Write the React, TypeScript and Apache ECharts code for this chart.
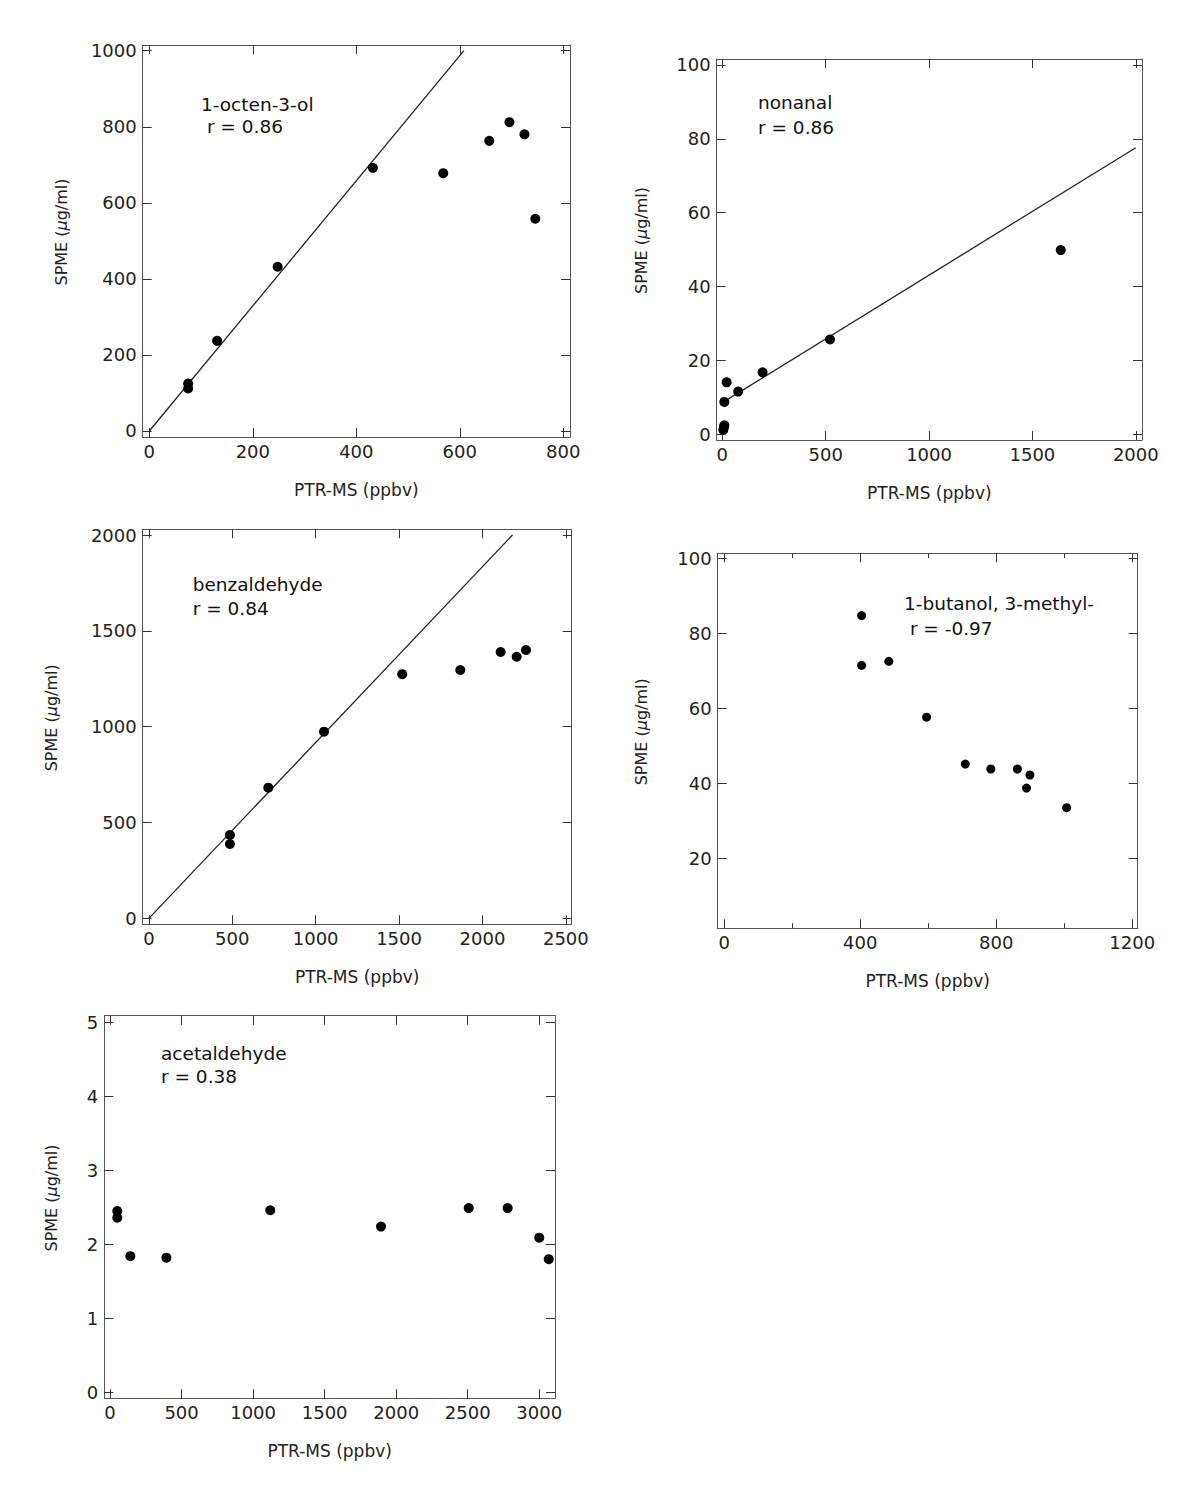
import React, { useEffect, useRef } from "react";
import * as echarts from "echarts";

// ---- data ----
const octenX = [75, 75, 131, 248, 432, 568, 657, 696, 725, 746];
const octenY = [125, 112, 237, 432, 692, 678, 763, 812, 780, 558];
const octenFitX = [0, 608];
const octenFitY = [0, 1000];

const nonanalX = [5, 8, 10, 10, 21, 77, 195, 521, 1637];
const nonanalY = [1.2, 2.0, 2.5, 8.8, 14.1, 11.6, 16.8, 25.7, 49.9];
const nonanalFitX = [20, 2000];
const nonanalFitY = [9.3, 77.6];

const benzX = [486, 486, 716, 1050, 1519, 1867, 2109, 2205, 2261];
const benzY = [435, 388, 682, 974, 1274, 1296, 1390, 1365, 1400];
const benzFitX = [0, 2180];
const benzFitY = [0, 2000];

const butanolX = [404, 404, 484, 595, 709, 784, 862, 899, 889, 1007];
const butanolY = [84.7, 71.4, 72.5, 57.6, 45.1, 43.8, 43.8, 42.2, 38.7, 33.5];

const acetX = [51, 51, 142, 394, 1120, 1894, 2507, 2779, 3000, 3066];
const acetY = [2.45, 2.36, 1.84, 1.82, 2.46, 2.24, 2.49, 2.49, 2.09, 1.8];

const ticks800 = [0, 200, 400, 600, 800];
const ticks1000 = [0, 200, 400, 600, 800, 1000];
const ticks2000by500 = [0, 500, 1000, 1500, 2000];
const ticks100 = [0, 20, 40, 60, 80, 100];
const ticks2500 = [0, 500, 1000, 1500, 2000, 2500];
const ticksButX = [0, 400, 800, 1200];
const ticksButXMinor = [200, 600, 1000];
const ticksButY = [20, 40, 60, 80, 100];
const ticks3000 = [0, 500, 1000, 1500, 2000, 2500, 3000];
const ticks5 = [0, 1, 2, 3, 4, 5];

const names = ["1-octen-3-ol", "nonanal", "benzaldehyde", "1-butanol, 3-methyl-", "acetaldehyde"];
const rTexts = [" r = 0.86", "r = 0.86", "r = 0.84", " r = -0.97", "r = 0.38"];

const xTitle = "PTR-MS (ppbv)";
const yTitle = "SPME ({i|μ}g/ml)";

// ---- layout ----
const FONT = "DejaVu Sans";
const panels = [
  {
    grid: { left: 142.7, top: 45, width: 427.3, height: 392 },
    x: [-12.8, 813], y: [-15.8, 1015],
    xt: ticks800, yt: ticks1000,
    xs: octenX, ys: octenY, fx: octenFitX, fy: octenFitY,
    ann: [201, 104, 201, 126], yTitleX: 61, sym: 10,
  },
  {
    grid: { left: 716.7, top: 59, width: 425.3, height: 381 },
    x: [-27, 2030], y: [-1.5, 101.6],
    xt: ticks2000by500, yt: ticks100,
    xs: nonanalX, ys: nonanalY, fx: nonanalFitX, fy: nonanalFitY,
    ann: [758, 102, 758, 127], yTitleX: 641, sym: 10,
  },
  {
    grid: { left: 142.7, top: 529.3, width: 429, height: 395 },
    x: [-37, 2535], y: [-31, 2030],
    xt: ticks2500, yt: ticks2000by500,
    xs: benzX, ys: benzY, fx: benzFitX, fy: benzFitY,
    ann: [192.7, 584, 192.7, 608.5], yTitleX: 51, sym: 10,
  },
  {
    grid: { left: 717.7, top: 553.3, width: 420, height: 375 },
    x: [-19.4, 1216], y: [1.33, 101.3],
    xt: ticksButX, xMinor: ticksButXMinor, yt: ticksButY,
    xs: butanolX, ys: butanolY,
    ann: [904, 603, 904, 628.5], yTitleX: 641, sym: 9,
  },
  {
    grid: { left: 104.3, top: 1015.7, width: 450.7, height: 382.6 },
    x: [-40, 3110], y: [-0.081, 5.09],
    xt: ticks3000, yt: ticks5,
    xs: acetX, ys: acetY,
    ann: [161, 1053.5, 161, 1076], yTitleX: 51, sym: 10,
  },
];

const LINE = "#555";
const TXT = "#222";

function axis(gi: number, pos: string, min: number, max: number, ticks: number[], withLabels: boolean, len = 9) {
  return {
    type: "value",
    gridIndex: gi,
    position: pos,
    min,
    max,
    axisLine: { show: true, onZero: false, lineStyle: { color: LINE, width: 1 } },
    axisTick: { show: true, inside: true, length: len, customValues: ticks, lineStyle: { color: "#333", width: 1 } },
    axisLabel: withLabels
      ? {
          show: true,
          customValues: ticks,
          margin: pos === "bottom" ? 5 : 6,
          fontSize: 18,
          fontFamily: FONT,
          color: TXT,
          formatter: (v: number) => String(v),
        }
      : { show: false },
    splitLine: { show: false },
  };
}

export default function App() {
  const ref = useRef<HTMLDivElement>(null);
  useEffect(() => {
    document.body.style.margin = "0";
    if (!ref.current) return;
    const chart = echarts.init(ref.current, undefined, { renderer: "svg" });
    const xAxes: any[] = [];
    const yAxes: any[] = [];
    const series: any[] = [];
    const graphic: any[] = [];
    panels.forEach((p, i) => {
      const xi = xAxes.length;
      xAxes.push(axis(i, "bottom", p.x[0], p.x[1], p.xt, true));
      xAxes.push(axis(i, "top", p.x[0], p.x[1], p.xt, false));
      if ((p as any).xMinor) {
        xAxes.push(axis(i, "bottom", p.x[0], p.x[1], (p as any).xMinor, false, 5));
        xAxes.push(axis(i, "top", p.x[0], p.x[1], (p as any).xMinor, false, 5));
      }
      const yi = yAxes.length;
      yAxes.push(axis(i, "left", p.y[0], p.y[1], p.yt, true));
      yAxes.push(axis(i, "right", p.y[0], p.y[1], p.yt, false));

      if ((p as any).fx) {
        const fx = (p as any).fx as number[];
        const fy = (p as any).fy as number[];
        series.push({
          type: "line",
          xAxisIndex: xi,
          yAxisIndex: yi,
          data: fx.map((v, k) => [v, fy[k]]),
          showSymbol: false,
          symbol: "none",
          lineStyle: { color: "#222", width: 1.3 },
          silent: true,
          z: 2,
        });
      }
      series.push({
        type: "scatter",
        xAxisIndex: xi,
        yAxisIndex: yi,
        data: p.xs.map((v, k) => [v, p.ys[k]]),
        symbol: "circle",
        symbolSize: p.sym,
        itemStyle: { color: "#000", opacity: 1 },
        z: 3,
      });

      const g = p.grid;
      graphic.push({
        type: "text",
        x: p.ann[0],
        y: p.ann[1],
        style: { text: names[i], fontSize: 18.5, fontFamily: FONT, fill: "#111", align: "left", verticalAlign: "middle" },
      });
      graphic.push({
        type: "text",
        x: p.ann[2],
        y: p.ann[3],
        style: { text: rTexts[i], fontSize: 18.5, fontFamily: FONT, fill: "#111", align: "left", verticalAlign: "middle" },
      });
      graphic.push({
        type: "text",
        x: g.left + g.width / 2,
        y: g.top + g.height + 53,
        style: { text: xTitle, fontSize: 17, fontFamily: FONT, fill: TXT, align: "center", verticalAlign: "middle" },
      });
      graphic.push({
        type: "text",
        x: p.yTitleX,
        y: g.top + g.height / 2 - 9,
        rotation: Math.PI / 2,
        style: {
          text: yTitle,
          fontSize: 16,
          fontFamily: FONT,
          fill: TXT,
          align: "center",
          verticalAlign: "middle",
          rich: { i: { fontStyle: "italic", fontSize: 16, fontFamily: FONT, fill: TXT } },
        },
      });
    });

    chart.setOption({
      animation: false,
      backgroundColor: "#fff",
      grid: panels.map((p) => ({ ...p.grid, containLabel: false })),
      xAxis: xAxes,
      yAxis: yAxes,
      series,
      graphic,
    });
    return () => chart.dispose();
  }, []);
  return <div ref={ref} style={{ width: 1200, height: 1512 }} />;
}
